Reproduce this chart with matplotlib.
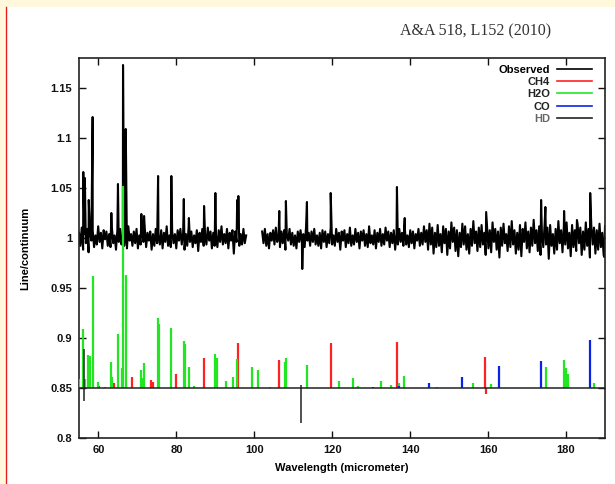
import numpy as np
import matplotlib
matplotlib.use('Agg')
import matplotlib.pyplot as plt
from matplotlib.patches import Rectangle
from matplotlib.lines import Line2D
from matplotlib.ticker import FormatStrFormatter, MultipleLocator

# observed spectrum: two segments with a gap, noise in units of noise_unit
seg_left = (55.0, 97.9)
seg_right = (102.0, 190.0)
noise_unit = 0.0013
noise_left = [4, -6, 8, -9, 3, -4, 7, -11, 5, -2, 6, -7, 2, -5, 9, -3, 4, -8, 6, -1,
              5, -6, 3, -7, 8, -4, 2, -9, 6, -3, 7, -5, 1, -6, 4, -8, 9, -2, 3, -6,
              5, -4, 7, -8, 2, -5, 6, -3, 8, -7, 4, -2, 5, -9, 3, -6, 7, -4, 2, -5,
              6, -8, 4, -3, 9, -6, 2, -7, 5, -4, 3, -8, 6, -2, 7, -5, 4, -9, 3, -6,
              8, -3, 5, -7, 2, -4, 6, -10, 4, -3, 7, -6, 3, -5, 8, -2, 5, -8, 4, -6,
              2, -7, 6, -3, 9, -5, 3, -4, 7, -8, 4, -2, 6, -12, 5, -3, 8, -6, 3, -5,
              7, -4, 2]
noise_right = [5, -4, 7, -6, 3, -8, 4, -2, 6, -5, 8, -3, 2, -7, 5, -4, 6, -9, 3, -2,
               7, -5, 4, -6, 2, -8, 5, -3, 6, -4, 3, -7, 8, -2, 4, -6, 5, -3, 7, -5,
               2, -6, 4, -8, 6, -3, 5, -7, 3, -4, 8, -5, 2, -6, 7, -3, 4, -9, 5, -2,
               6, -7, 3, -4, 8, -6, 2, -5, 7, -3, 4, -8, 5, -2, 6, -6, 3, -7, 9, -4,
               2, -5, 6, -8, 4, -3, 7, -6, 3, -5, 8, -2, 5, -7, 4, -4, 6, -9, 3, -5,
               7, -3, 4, -6, 8, -5, 2, -7, 6, -4, 5, -8, 3, -2, 7, -6, 4, -5, 9, -3,
               6, -9, 11, -5, 8, -12, 4, -7, 10, -6, 3, -11, 9, -4, 7, -13, 5, -8, 12, -3,
               8, -10, 6, -14, 4, -7, 11, -5, 9, -9, 3, -12, 7, -6, 13, -4, 5, -10, 8, -7,
               10, -5, 4, -13, 9, -8, 6, -11, 12, -3, 7, -9, 5, -15, 8, -6, 11, -4, 3, -10,
               9, -7, 13, -5, 6, -12, 4, -9, 10, -14, 7, -3, 12, -8, 5, -11, 8, -6, 14, -4,
               6, -10, 9, -13, 4, -7, 11, -5, 8, -16, 10, -6, 3, -12, 7, -9, 13, -4, 6, -11,
               9, -5, 12, -8, 4, -14, 10, -7, 6, -10, 11, -4, 8, -13, 5, -9, 12, -6, 7, -15,
               10, -5, 8, -12, 6, -9, 11, -7, 4, -13, 9]
obs_line_pos = [56.1, 56.5, 57.5, 58.5, 63.3, 65.0, 66.3, 67.0, 71.0, 71.7, 75.3, 78.7,
                81.9, 83.2, 87.1, 90.0, 95.6, 95.9, 106.4, 108.1, 112.3, 113.5, 119.6,
                136.6, 138.6, 159.5, 173.6, 174.7, 179.5, 182.8, 186.2, 189.8]
obs_line_val = [1.066, 1.060, 1.038, 1.121, 1.025, 1.054, 1.173, 1.109, 1.024, 1.022, 1.062, 1.062,
                1.039, 1.020, 1.032, 1.045, 1.038, 1.042, 1.027, 1.037, 0.969, 1.036, 1.045,
                1.051, 1.020, 1.026, 1.038, 1.031, 1.027, 1.018, 1.045, 0.981]

# model lines (offset to 0.85)
baseline = 0.85
h2o_pos = [55.1, 56.1, 56.6, 57.4, 57.8, 58.5, 60.0, 61.6, 63.3, 63.5,
           65.1, 66.1, 66.35, 67.0, 71.0, 71.4, 71.8, 75.25, 75.5, 78.7,
           81.9, 82.2, 83.2, 84.6, 90.0, 90.3, 92.8, 94.5, 95.6, 99.5,
           101.0, 103.9, 107.8, 108.2, 113.5, 121.8, 125.4, 126.7, 132.4, 135.0,
           137.2, 138.5, 146.8, 156.2, 160.7, 174.8, 179.5, 180.0, 180.5, 187.2]
h2o_peak = [0.859, 0.909, 0.859, 0.883, 0.882, 0.962, 0.856, 0.851, 0.876, 0.861,
            0.904, 0.870, 1.052, 0.963, 0.868, 0.860, 0.875, 0.920, 0.914, 0.910,
            0.897, 0.894, 0.871, 0.852, 0.884, 0.880, 0.857, 0.861, 0.879, 0.871,
            0.868, 0.851, 0.876, 0.880, 0.873, 0.857, 0.860, 0.852, 0.857, 0.853,
            0.855, 0.862, 0.851, 0.855, 0.854, 0.871, 0.878, 0.870, 0.864, 0.855]
ch4_pos = [60.2, 63.9, 68.7, 73.5, 73.9, 80.0, 87.2, 95.8, 106.4, 119.6, 136.7, 159.3, 159.4]
ch4_peak = [0.852, 0.855, 0.861, 0.858, 0.856, 0.864, 0.880, 0.895, 0.878, 0.895, 0.896, 0.881, 0.844]
co_pos = [130.4, 137.2, 144.8, 153.4, 162.9, 173.7, 186.2]
co_peak = [0.851, 0.852, 0.855, 0.861, 0.872, 0.877, 0.898]
hd_pos = [56.2, 112.1]
hd_low = [0.837, 0.815]
hd_high = [0.889, 0.853]

legend_labels = ['Observed', 'CH4', 'H2O', 'CO', 'HD']
c_obs, c_ch4, c_h2o, c_co, c_hd = 'black', '#ff2222', '#22e622', '#0a22e6', '#222222'


def observed_segment(x0, x1, noise):
    x = np.linspace(x0, x1, len(noise))
    y = 1.0 + np.array(noise) * noise_unit
    sel = [(p, v) for p, v in zip(obs_line_pos, obs_line_val) if x0 <= p <= x1]
    if sel:
        px, pv = zip(*sel)
        x = np.concatenate([x, px])
        y = np.concatenate([y, pv])
    order = np.argsort(x)
    return x[order], y[order]


fig = plt.figure(figsize=(6.15, 4.84), dpi=100)
W, H = 615, 484
# page decoration
fig.add_artist(Rectangle((0, 1 - 7 / H), 1, 7 / H, transform=fig.transFigure,
                         facecolor='#fff8dc', edgecolor='none', zorder=0))
fig.add_artist(Rectangle((0, 0), 5 / W, 1, transform=fig.transFigure,
                         facecolor='#fff8dc', edgecolor='none', zorder=0))
fig.add_artist(Line2D([5.8 / W, 5.8 / W], [0, 1 - 7 / H], transform=fig.transFigure,
                      color='#e61e1e', lw=1.0))
fig.text(476 / W, 1 - 31 / H, 'A&A 518, L152 (2010)', family='Liberation Serif',
         fontsize=11.5, ha='center', va='center', color='#333333')

ax = fig.add_axes([79 / W, (H - 438) / H, 526 / W, 380 / H])

for (x0, x1), nz in ((seg_left, noise_left), (seg_right, noise_right)):
    xs, ys = observed_segment(x0, x1, nz)
    ax.plot(xs, ys, color=c_obs, lw=1.5, zorder=2)

ax.vlines(ch4_pos, baseline, ch4_peak, color=c_ch4, lw=1.6, zorder=3)
ax.vlines(h2o_pos, baseline, h2o_peak, color=c_h2o, lw=1.6, zorder=3)
ax.vlines(co_pos, baseline, co_peak, color=c_co, lw=1.6, zorder=3)
ax.axhline(baseline, color=c_hd, lw=1.1, zorder=4)
ax.vlines(hd_pos, hd_low, hd_high, color=c_hd, lw=1.1, zorder=4)

ax.set_xlim(55, 190)
ax.set_ylim(0.8, 1.18)
ax.xaxis.set_major_locator(MultipleLocator(20))
ax.yaxis.set_major_locator(MultipleLocator(0.05))
ax.yaxis.set_major_formatter(FormatStrFormatter('%g'))
ax.tick_params(direction='in', length=5, width=1, top=True, right=True, pad=5,
               labelsize=8, colors='#111111')
for lab in ax.get_xticklabels() + ax.get_yticklabels():
    lab.set_fontfamily('Liberation Sans')
    lab.set_fontweight('bold')
for sp in ax.spines.values():
    sp.set_linewidth(1.2)
    sp.set_color('#222222')

ax.set_xlabel('Wavelength (micrometer)', family='Liberation Sans', fontweight='bold',
              fontsize=8, labelpad=6)
ax.set_ylabel('Line/continuum', family='Liberation Sans', fontweight='bold', fontsize=8)
ax.yaxis.set_label_coords(-0.093, 0.5)

handles = [Line2D([], [], color=c, lw=1.2) for c in (c_obs, c_ch4, c_h2o, c_co, c_hd)]
leg = ax.legend(handles, legend_labels, loc='upper right', bbox_to_anchor=(0.975, 0.982),
                frameon=False, markerfirst=False, handlelength=3.15, handletextpad=0.6,
                labelspacing=0.2, borderpad=0, borderaxespad=0,
                prop=dict(family='Liberation Sans', size=8, weight='bold'))
for i, t in enumerate(leg.get_texts()):
    if i == 4:
        t.set_color('#666666')
    elif i > 0:
        t.set_color('#222222')

fig.savefig('out.png', dpi=100)
plt.close(fig)
